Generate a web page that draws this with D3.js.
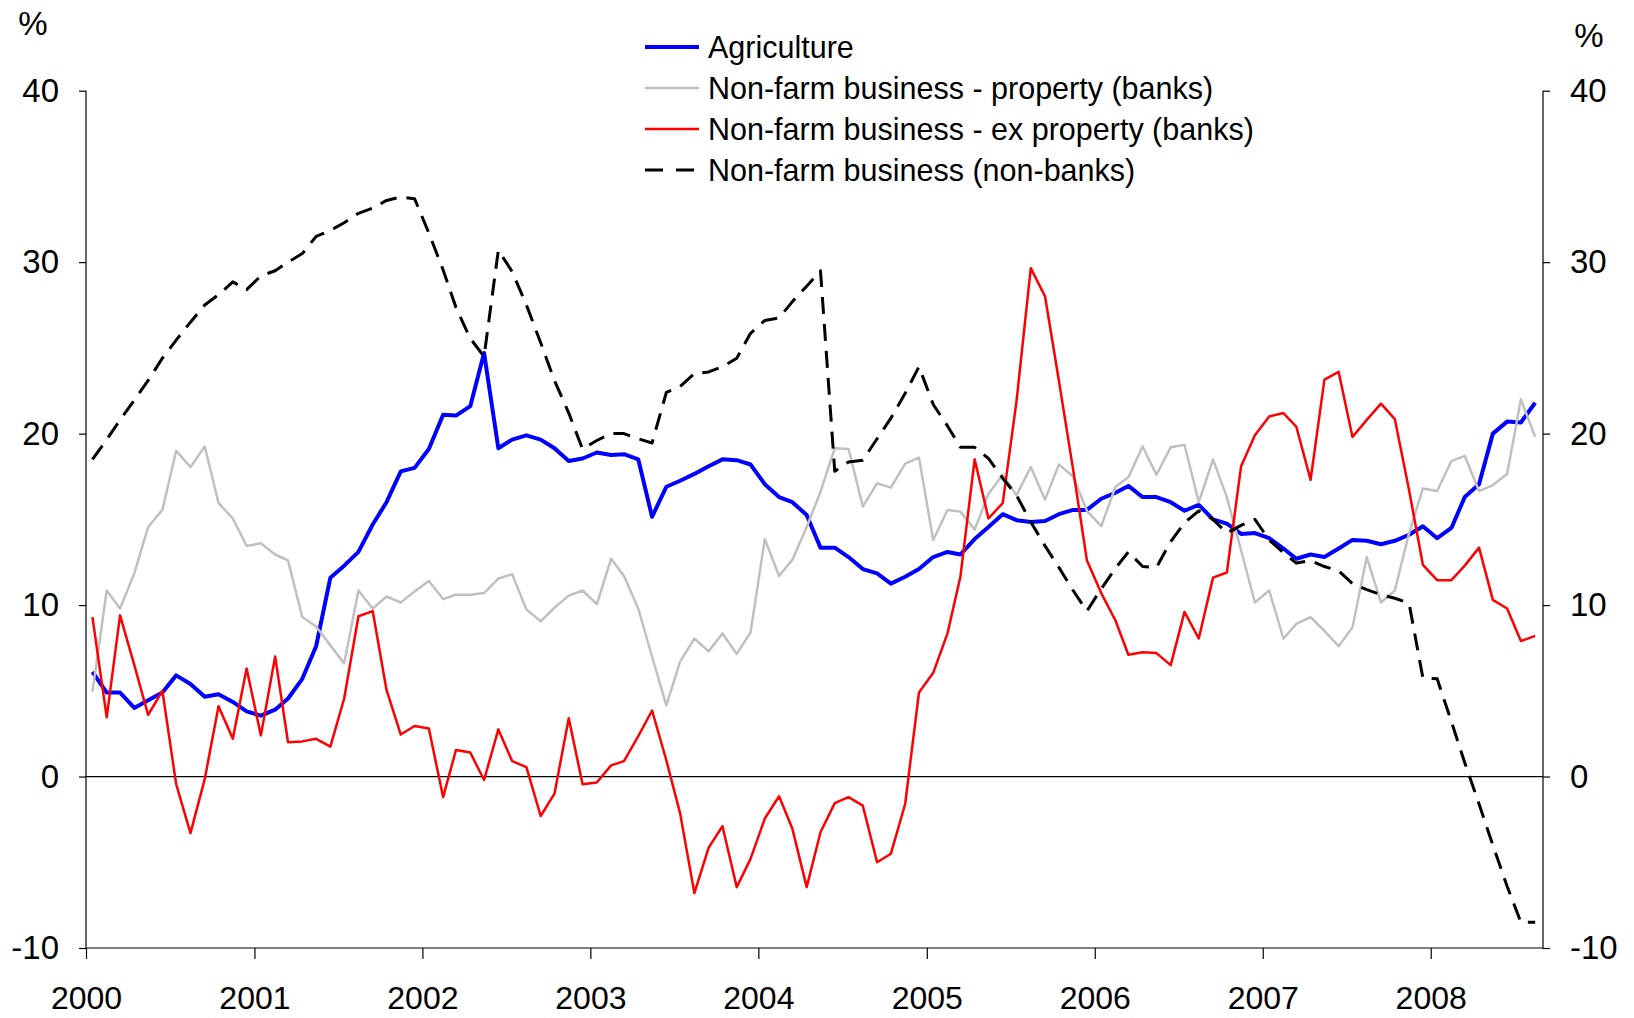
<!DOCTYPE html>
<html>
<head>
<meta charset="utf-8">
<script src="https://cdn.jsdelivr.net/npm/d3@7"></script>
<style>
  body { margin: 0; background: #fff; }
  svg { display: block; font-family: "Liberation Sans", Arial, sans-serif; }
</style>
</head>
<body>
<script>
// monthly, Jan 2000 - Aug 2008, annual growth in %
var agriculture = [
    6.1, 4.9, 4.9, 4.0, 4.45, 4.9, 5.9, 5.4, 4.65, 4.8, 4.35, 3.8,
    3.55, 3.9, 4.55, 5.7, 7.6, 11.6, 12.3, 13.1, 14.7, 16.0, 17.8, 18.0,
    19.1, 21.1, 21.05, 21.6, 24.7, 19.15, 19.65, 19.9, 19.65, 19.15, 18.4, 18.55,
    18.9, 18.75, 18.8, 18.5, 15.15, 16.9, 17.25, 17.65, 18.1, 18.5, 18.45, 18.2,
    17.05, 16.3, 16.0, 15.25, 13.35, 13.35, 12.8, 12.1, 11.85, 11.25, 11.65, 12.1,
    12.8, 13.1, 12.95, 13.85, 14.55, 15.3, 14.95, 14.85, 14.9, 15.3, 15.55, 15.55,
    16.2, 16.55, 16.95, 16.3, 16.3, 16.0, 15.5, 15.85, 15.0, 14.75, 14.15, 14.2,
    13.9, 13.3, 12.7, 12.95, 12.8, 13.3, 13.8, 13.75, 13.55, 13.75, 14.1, 14.6,
    13.9, 14.5, 16.3, 17.05, 20.0, 20.7, 20.65, 21.8
];
var propertyBanks = [
    4.95, 10.85, 9.8, 11.85, 14.55, 15.55, 19.0, 18.05, 19.25, 15.95, 15.05, 13.45,
    13.6, 12.95, 12.6, 9.3, 8.75, 7.65, 6.6, 10.85, 9.8, 10.5, 10.15, 10.8,
    11.4, 10.35, 10.6, 10.6, 10.7, 11.55, 11.8, 9.75, 9.05, 9.85, 10.55, 10.85,
    10.05, 12.7, 11.7, 9.8, 7.0, 4.15, 6.7, 8.05, 7.3, 8.35, 7.15, 8.4,
    13.85, 11.7, 12.65, 14.55, 16.6, 19.15, 19.1, 15.75, 17.1, 16.85, 18.25, 18.6,
    13.8, 15.55, 15.45, 14.4, 16.5, 17.6, 16.4, 18.05, 16.15, 18.2, 17.5, 15.5,
    14.6, 16.9, 17.45, 19.25, 17.6, 19.2, 19.35, 16.0, 18.5, 16.3, 13.2, 10.15,
    10.85, 8.05, 8.9, 9.3, 8.5, 7.6, 8.7, 12.8, 10.15, 10.85, 14.2, 16.8,
    16.65, 18.4, 18.7, 16.65, 17.0, 17.65, 22.0, 19.8
];
var exPropertyBanks = [
    9.3, 3.45, 9.4, 6.5, 3.6, 5.0, -0.45, -3.3, -0.15, 4.1, 2.2, 6.3,
    2.4, 7.0, 2.0, 2.05, 2.2, 1.75, 4.55, 9.35, 9.65, 5.05, 2.45, 2.95,
    2.8, -1.2, 1.55, 1.4, -0.2, 2.75, 0.9, 0.55, -2.3, -1.0, 3.4, -0.45,
    -0.35, 0.65, 0.9, 2.35, 3.85, 0.95, -2.15, -6.8, -4.15, -2.9, -6.45, -4.8,
    -2.45, -1.15, -3.05, -6.45, -3.25, -1.55, -1.2, -1.7, -5.0, -4.5, -1.6, 4.9,
    6.05, 8.35, 11.65, 18.5, 15.05, 15.95, 21.9, 29.65, 28.0, 23.1, 17.9, 12.6,
    10.7, 9.1, 7.1, 7.25, 7.2, 6.5, 9.6, 8.05, 11.6, 11.9, 18.1, 19.9,
    21.0, 21.2, 20.4, 17.3, 23.15, 23.6, 19.8, 20.8, 21.75, 20.85, 16.7, 12.35,
    11.45, 11.45, 12.3, 13.35, 10.3, 9.8, 7.9, 8.2
];
var nonBanks = [
    18.5, 19.65, 20.8, 21.95, 23.1, 24.4, 25.45, 26.5, 27.5, 28.1, 28.85, 28.4,
    29.2, 29.5, 30.0, 30.5, 31.5, 31.85, 32.3, 32.85, 33.15, 33.6, 33.8, 33.7,
    31.7, 29.55, 27.35, 25.55, 24.5, 30.7, 29.45, 27.5, 25.3, 23.1, 21.2, 19.1,
    19.6, 20.0, 20.0, 19.7, 19.45, 22.4, 22.75, 23.5, 23.6, 23.9, 24.4, 25.85,
    26.6, 26.75, 27.7, 28.6, 29.5, 17.8, 18.35, 18.45, 19.7, 20.9, 22.35, 23.9,
    21.7, 20.45, 19.2, 19.2, 18.55, 17.4, 16.4, 14.85, 13.45, 12.2, 10.85, 9.65,
    10.95, 12.15, 13.1, 12.25, 12.2, 13.7, 14.8, 15.5, 15.0, 14.2, 14.65, 15.0,
    13.8, 13.05, 12.45, 12.6, 12.25, 12.0, 11.25, 10.9, 10.6, 10.4, 10.1, 5.75,
    5.7, 3.2, 0.8, -1.6, -4.0, -6.4, -8.5, -8.5
];
var yTicks = [-10, 0, 10, 20, 30, 40];
var yearTicks = [2000, 2001, 2002, 2003, 2004, 2005, 2006, 2007, 2008];
var seriesNames = [
    "Agriculture",
    "Non-farm business - property (banks)",
    "Non-farm business - ex property (banks)",
    "Non-farm business (non-banks)"
];

var width = 1634;
var height = 1018;
var plotLeft = 86, plotRight = 1543, plotTop = 90.7, plotBottom = 948;

// mid-month dates for each observation
var months = d3.range(agriculture.length).map(function (i) {
    return new Date(2000, i, 15);
});

var series = [
    { name: seriesNames[0], values: agriculture, color: "#0000ff", width: 4, dash: null },
    { name: seriesNames[1], values: propertyBanks, color: "#c0c0c0", width: 2.5, dash: null },
    { name: seriesNames[2], values: exPropertyBanks, color: "#ff0000", width: 2.5, dash: null },
    { name: seriesNames[3], values: nonBanks, color: "#000000", width: 3, dash: "17,10" }
];

var svg = d3.select("body").append("svg")
    .attr("width", width)
    .attr("height", height);

let xScale = d3.scaleTime()
    .domain([new Date(2000, 0, 1), new Date(2008, 8, 1)])
    .range([plotLeft, plotRight]);

let yScale = d3.scaleLinear()
    .domain([-10, 40])
    .range([plotBottom, plotTop]);

// axes (plain hyphen for negatives, like the original)
let plainNum = function (d) { return String(d); };
let yLeft = d3.axisLeft(yScale).tickValues(yTicks).tickFormat(plainNum).tickSize(7).tickPadding(20);
let yRight = d3.axisRight(yScale).tickValues(yTicks).tickFormat(plainNum).tickSize(7).tickPadding(20);
let xAxisGen = d3.axisBottom(xScale)
    .tickValues(yearTicks.map(function (y) { return new Date(y, 0, 1); }))
    .tickFormat(d3.timeFormat("%Y"))
    .tickSize(11).tickPadding(27);

function styleAxis(g, size) {
    g.select(".domain").attr("stroke", "#000").attr("stroke-width", 1.2);
    g.selectAll(".tick line").attr("stroke", "#000").attr("stroke-width", 1.2);
    g.selectAll(".tick text")
        .attr("fill", "#000")
        .style("font-size", size + "px")
        .style("font-family", "'Liberation Sans', Arial, sans-serif");
}

svg.append("g")
    .attr("transform", "translate(" + plotLeft + ",0)")
    .call(yLeft)
    .call(function (g) { g.select(".domain").attr("d", "M0," + plotTop + "V" + plotBottom); })
    .call(styleAxis, 33);

svg.append("g")
    .attr("transform", "translate(" + plotRight + ",0)")
    .call(yRight)
    .call(function (g) { g.select(".domain").attr("d", "M0," + plotTop + "V" + plotBottom); })
    .call(styleAxis, 33);

svg.append("g")
    .attr("transform", "translate(0," + plotBottom + ")")
    .call(xAxisGen)
    .call(function (g) { g.select(".domain").attr("d", "M" + plotLeft + ",0H" + plotRight); })
    .call(styleAxis, 32);

// zero line
svg.append("line")
    .attr("x1", plotLeft).attr("x2", plotRight)
    .attr("y1", yScale(0)).attr("y2", yScale(0))
    .attr("stroke", "#000")
    .attr("stroke-width", 1.2);

// unit labels
svg.append("text").attr("x", 33).attr("y", 35)
    .attr("text-anchor", "middle").style("font-size", "33px").text("%");
svg.append("text").attr("x", 1589).attr("y", 47)
    .attr("text-anchor", "middle").style("font-size", "33px").text("%");

// lines
let linefunc = d3.line()
    .x(function (d, i) { return xScale(months[i]); })
    .y(function (d) { return yScale(d); })
    .curve(d3.curveLinear);

series.forEach(function (s) {
    svg.append("path")
        .attr("d", linefunc(s.values))
        .attr("fill", "none")
        .attr("stroke", s.color)
        .attr("stroke-width", s.width)
        .attr("stroke-linejoin", "round")
        .attr("stroke-dasharray", s.dash);
});

// legend
var legend = svg.append("g").attr("transform", "translate(645,47)");
series.forEach(function (s, i) {
    var row = legend.append("g").attr("transform", "translate(0," + (i * 41) + ")");
    row.append("line")
        .attr("x1", 0).attr("x2", 54)
        .attr("stroke", s.color)
        .attr("stroke-width", s.width)
        .attr("stroke-dasharray", s.dash ? "18,13" : null);
    row.append("text")
        .attr("x", 63).attr("dy", "0.35em")
        .style("font-size", "30.5px")
        .text(s.name);
});
</script>
</body>
</html>
